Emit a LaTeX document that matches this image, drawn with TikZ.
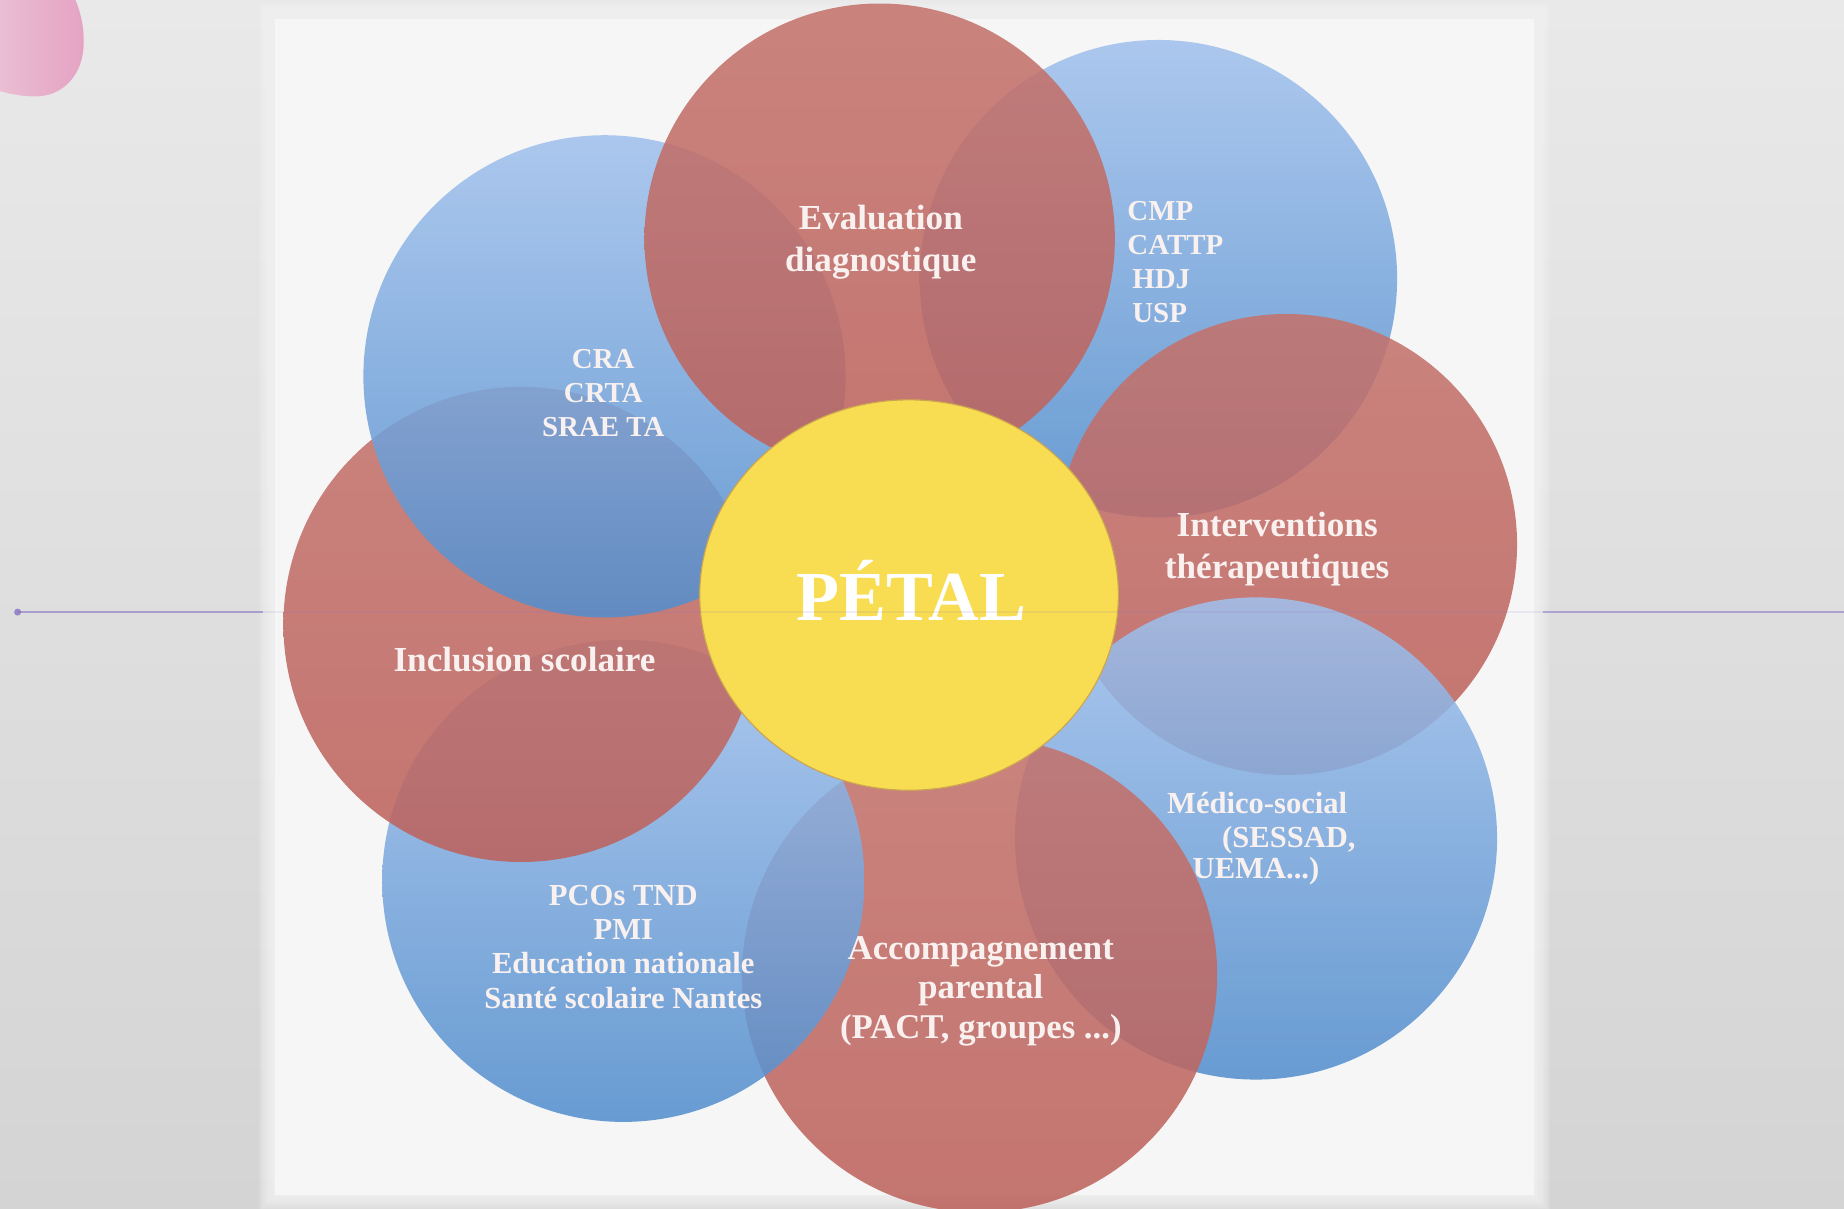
\documentclass[tikz,border=0pt]{standalone}
\usepackage{fontspec}
\setmainfont{Liberation Serif}
\definecolor{bgtop}{RGB}{233,233,233}
\definecolor{bgbot}{RGB}{212,212,212}
\definecolor{panel}{RGB}{246,246,246}
\definecolor{bluetop}{RGB}{161,193,237}
\definecolor{bluebot}{RGB}{83,142,205}
\definecolor{redtop}{RGB}{196,114,108}
\definecolor{redbot}{RGB}{189,98,92}
\definecolor{petalyellow}{RGB}{248,221,82}
\definecolor{yellowedge}{RGB}{205,165,80}
\definecolor{labeltext}{RGB}{249,241,239}
\definecolor{pinkL}{RGB}{234,192,212}
\definecolor{pinkR}{RGB}{229,162,195}
\definecolor{purpleline}{RGB}{135,115,195}
\tikzset{
  bluepetal/.style={top color=bluetop, bottom color=bluebot, opacity=0.87},
  redpetal/.style={top color=redtop, bottom color=redbot, opacity=0.87},
  labelbase/.style={text=labeltext, align=center, inner sep=0pt},
  biglabel/.style={labelbase, font=\bfseries\fontsize{8.5}{10.2}\selectfont},
  midlabel/.style={labelbase, font=\bfseries\fontsize{7.4}{8.3}\selectfont},
  smalllabel/.style={labelbase, font=\bfseries\fontsize{7}{8.2}\selectfont},
  purplestroke/.style={draw=purpleline, line width=0.17mm},
}
\begin{document}
\begin{tikzpicture}[x=0.1mm,y=-0.1mm]
  \clip (0,0) rectangle (1568,1028);
  % background
  \shade[top color=bgtop, bottom color=bgbot] (0,0) rectangle (1568,1028);
  % white panel with soft edges
  \foreach \d in {1,...,14} {
    \fill[panel, opacity=0.12] (234-\d,16-\d) rectangle (1304+\d,1016+\d);
  }
  \fill[panel] (234,16) rectangle (1304,1016);
  % pink blob top-left
  \shade[left color=pinkL, right color=pinkR]
    (-5,-5) -- (62,-5) .. controls (68,8) and (72,22) .. (71,40)
    .. controls (70,62) and (55,82) .. (30,82)
    .. controls (18,82) and (8,80) .. (-5,76) -- cycle;
  % petals (draw order gives the overlap tints)
  \shade[bluepetal] (985,237) circle (203);   % CMP
  \shade[redpetal]  (1094,463) circle (196);  % Interventions
  \shade[bluepetal] (1068,713) circle (205);  % Medico-social
  \shade[redpetal]  (833,829) circle (202);   % Accompagnement
  \shade[bluepetal] (530,749) circle (205);   % PCOs
  \shade[redpetal]  (443,531) circle (202);   % Inclusion
  \shade[bluepetal] (514,320) circle (205);   % CRA
  \shade[redpetal]  (748,203) circle (200);   % Evaluation
  % centre
  \fill[petalyellow, draw=yellowedge, line width=0.1mm] (773,506) ellipse (178 and 166);
  % labels
  \node[biglabel] (eval) at (749,206) {Evaluation\\diagnostique};
  \node[smalllabel, align=left, anchor=west] (cmp) at (958,223) {CMP\\CATTP\\\,HDJ\\\,USP};
  \node[biglabel] (interv) at (1086,467) {Interventions\\thérapeutiques};
  \node[midlabel] (medicoA) at (1069,683) {Médico-social};
  \node[midlabel] (medicoB) at (1096,714) {(SESSAD,};
  \node[midlabel] (medicoC) at (1068,741) {UEMA...)};
  \node[biglabel, font=\bfseries\fontsize{8.4}{9.5}\selectfont] (accomp) at (834,843) {Accompagnement\\parental\\(PACT, groupes ...)};
  \node[midlabel] (pcos) at (530,805) {PCOs TND\\PMI\\Education nationale\\Santé scolaire Nantes};
  \node[biglabel] (inclusion) at (446,561) {Inclusion scolaire};
  \node[smalllabel] (cra) at (513,334) {CRA\\CRTA\\SRAE TA};
  \node[anchor=base, text=white, inner sep=0pt, font=\bfseries\fontsize{17}{20}\selectfont] (petal) at (775,528) {PÉTAL};
  % horizontal purple line
  \coordinate (lineL) at (15,520.5);
  \coordinate (panelL) at (224,520.5);
  \coordinate (panelR) at (1312,520.5);
  \coordinate (lineR) at (1568,520.5);
  \draw[purplestroke, opacity=0.6] (lineL) -- (panelL);
  \draw[purplestroke, opacity=0.12] (panelL) -- (panelR);
  \draw[purplestroke, opacity=0.55] (panelR) -- (lineR);
  \fill[purpleline, opacity=0.8] (lineL) circle (3);
\end{tikzpicture}
\end{document}
